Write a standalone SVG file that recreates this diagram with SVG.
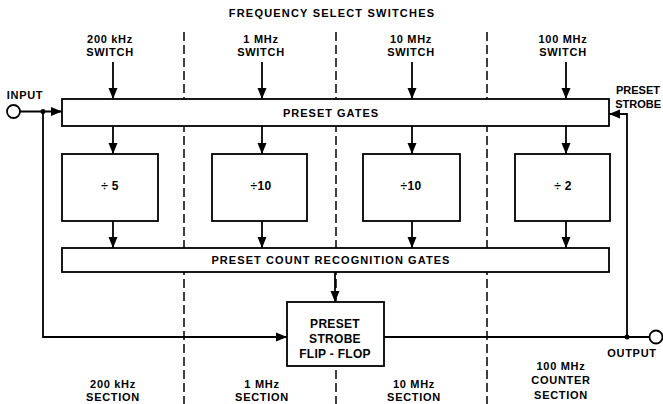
<svg xmlns="http://www.w3.org/2000/svg" width="663" height="404" viewBox="0 0 663 404">
<defs>
<marker id="arr" markerUnits="userSpaceOnUse" markerWidth="12" markerHeight="12" viewBox="0 0 12 12" refX="11" refY="6" orient="auto">
<path d="M0,1.5 L11,6 L0,10.5 Z" fill="#000"/>
</marker>
</defs>
<style>
.t{font-family:"Liberation Sans",Arial,sans-serif;font-weight:bold;font-size:11px;fill:#000;text-anchor:middle;letter-spacing:0.7px}
.big{font-size:12px;letter-spacing:0.3px}
.b{fill:#fff;stroke:#000;stroke-width:1.8}
.c{fill:none;stroke:#000;stroke-width:1.8}
.d{fill:none;stroke:#000;stroke-width:1.5;stroke-dasharray:9 4}
</style>
<rect width="663" height="404" fill="#fff"/>
<g id="dividers">
<line class="d" x1="184" y1="32" x2="184" y2="404"/>
<line class="d" x1="336" y1="32" x2="336" y2="404"/>
<line class="d" x1="487" y1="32" x2="487" y2="404"/>
</g>
<text class="t" x="332" y="17" style="letter-spacing:1.2px">FREQUENCY SELECT SWITCHES</text>
<g id="sw200"><text class="t" x="110" y="43">200 kHz</text><text class="t" x="110" y="56">SWITCH</text></g>
<g id="sw1"><text class="t" x="261" y="43">1 MHz</text><text class="t" x="261" y="56">SWITCH</text></g>
<g id="sw10"><text class="t" x="411" y="43">10 MHz</text><text class="t" x="411" y="56">SWITCH</text></g>
<g id="sw100"><text class="t" x="563" y="43">100 MHz</text><text class="t" x="563" y="56">SWITCH</text></g>
<g id="input"><circle class="b" cx="13.5" cy="111.5" r="6.5"/><text class="t" x="25" y="99">INPUT</text></g>
<g id="output"><circle class="b" cx="656" cy="337" r="6.5"/><text class="t" x="632" y="357">OUTPUT</text></g>
<g id="strobe-label"><text class="t" x="660" y="94" style="text-anchor:end;letter-spacing:0">PRESET</text><text class="t" x="661" y="108" style="text-anchor:end;letter-spacing:0">STROBE</text></g>
<g id="preset-gates"><rect class="b" x="62" y="99" width="547" height="27"/><text class="t" x="331" y="117" style="letter-spacing:1px">PRESET GATES</text></g>
<g id="div5"><rect class="b" x="62" y="154" width="96" height="67"/><text class="t big" x="110" y="190">÷ 5</text></g>
<g id="div10a"><rect class="b" x="212" y="154" width="95" height="67"/><text class="t big" x="261" y="190">÷10</text></g>
<g id="div10b"><rect class="b" x="363" y="154" width="97" height="67"/><text class="t big" x="411" y="190">÷10</text></g>
<g id="div2"><rect class="b" x="515" y="154" width="95" height="67"/><text class="t big" x="563" y="190">÷ 2</text></g>
<g id="recog"><rect class="b" x="62" y="248" width="547" height="24"/><text class="t" x="331" y="264" style="letter-spacing:1.07px">PRESET COUNT RECOGNITION GATES</text></g>
<g id="flipflop"><rect class="b" x="287" y="302" width="97" height="64"/><text class="t big" x="335" y="328">PRESET</text><text class="t big" x="335" y="343">STROBE</text><text class="t big" x="335" y="358">FLIP - FLOP</text></g>
<g id="sections">
<text class="t" x="113" y="388">200 kHz</text><text class="t" x="113" y="401">SECTION</text>
<text class="t" x="262" y="388">1 MHz</text><text class="t" x="262" y="401">SECTION</text>
<text class="t" x="414" y="388">10 MHz</text><text class="t" x="414" y="401">SECTION</text>
<text class="t" x="561" y="370">100 MHz</text><text class="t" x="561" y="384">COUNTER</text><text class="t" x="561" y="399">SECTION</text>
</g>
<g id="connectors">
<line class="c" x1="113" y1="62" x2="113" y2="99" marker-end="url(#arr)"/>
<line class="c" x1="262" y1="62" x2="262" y2="99" marker-end="url(#arr)"/>
<line class="c" x1="412" y1="62" x2="412" y2="99" marker-end="url(#arr)"/>
<line class="c" x1="566" y1="62" x2="566" y2="99" marker-end="url(#arr)"/>
<line class="c" x1="113" y1="126" x2="113" y2="154" marker-end="url(#arr)"/>
<line class="c" x1="262" y1="126" x2="262" y2="154" marker-end="url(#arr)"/>
<line class="c" x1="412" y1="126" x2="412" y2="154" marker-end="url(#arr)"/>
<line class="c" x1="566" y1="126" x2="566" y2="154" marker-end="url(#arr)"/>
<line class="c" x1="113" y1="221" x2="113" y2="248" marker-end="url(#arr)"/>
<line class="c" x1="262" y1="221" x2="262" y2="248" marker-end="url(#arr)"/>
<line class="c" x1="412" y1="221" x2="412" y2="248" marker-end="url(#arr)"/>
<line class="c" x1="566" y1="221" x2="566" y2="248" marker-end="url(#arr)"/>
<line class="c" x1="335" y1="272" x2="335" y2="302" marker-end="url(#arr)"/>
<line class="c" x1="20" y1="111.5" x2="62" y2="111.5" marker-end="url(#arr)"/>
<circle cx="43" cy="111.5" r="2.5" fill="#000"/>
<polyline class="c" points="43,111.5 43,337 287,337" marker-end="url(#arr)"/>
<line class="c" x1="384" y1="337" x2="649.5" y2="337"/>
<circle cx="627" cy="337" r="2.5" fill="#000"/>
<polyline class="c" points="627,337 627,114 609,114" marker-end="url(#arr)"/>
</g>
</svg>
